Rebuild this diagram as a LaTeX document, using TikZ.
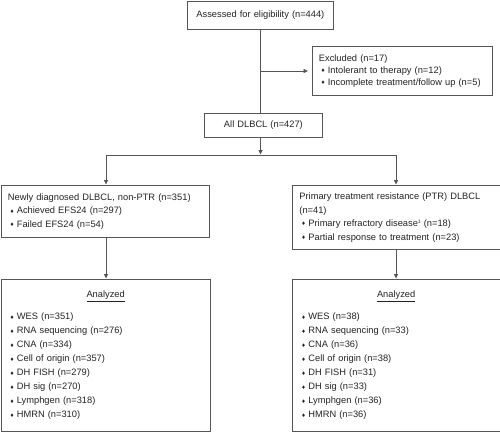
\documentclass[tikz,border=0pt]{standalone}
\usepackage{fontspec}
\setmainfont{Liberation Sans}
\newfontfamily\symfont{DejaVu Sans}
\usetikzlibrary{arrows.meta}
\definecolor{linegray}{HTML}{555555}
\definecolor{txtgray}{HTML}{222222}
\newcommand\dia{\raisebox{0.7pt}{\symfont\fontsize{5pt}{5pt}\selectfont ♦}}
\newcommand\itm{\hspace*{2pt}\dia\hspace{2.5pt}}
\begin{document}
\begin{tikzpicture}[x=1pt,y=-1pt,
  box/.style={draw=linegray, line width=0.8pt, anchor=north west, inner xsep=7pt, inner ysep=0pt,
    text=txtgray, font=\fontsize{9.3pt}{13.5pt}\selectfont},
  conn/.style={draw=linegray, line width=0.8pt},
  arr/.style={conn, -{Triangle[length=4.5pt,width=4pt]}, shorten >=0.5pt}]
\useasboundingbox (0,0) rectangle (500,432);
% boxes
\node[box, minimum width=146pt, minimum height=28.5pt, text width=132pt, align=center] (top) at (187,0.5) {Assessed for eligibility (n=444)};
\node[box, minimum width=180.5pt, minimum height=49pt, text width=166.5pt, align=left, font=\fontsize{9.3pt}{12.3pt}\selectfont] (excl) at (311.5,46) {Excluded (n=17)\\\itm Intolerant to therapy (n=12)\\\itm Incomplete treatment/follow up (n=5)};
\node[box, minimum width=118pt, minimum height=24pt, text width=104pt, align=center] (all) at (204,113) {All DLBCL (n=427)};
\node[box, minimum width=208.5pt, minimum height=52pt, text width=194.5pt, align=left] (newd) at (0.5,185) {Newly diagnosed DLBCL, non-PTR (n=351)\\\itm Achieved EFS24 (n=297)\\\itm Failed EFS24 (n=54)};
\node[box, minimum width=207.5pt, minimum height=64pt, text width=193.5pt, align=left] (ptr) at (292,185) {Primary treatment resistance (PTR) DLBCL\\(n=41)\\\itm Primary refractory disease{\fontsize{5pt}{5pt}\selectfont\raisebox{3.5pt}{1}} (n=18)\\\itm Partial response to treatment (n=23)};
\node[box, minimum width=209.5pt, minimum height=152pt, text width=195.5pt, align=left, font=\fontsize{9.3pt}{14pt}\selectfont] (anl) at (0.5,279) {\makebox[195.5pt][c]{\underline{Analyzed}}\\[8pt]
\itm WES (n=351)\\\itm RNA sequencing (n=276)\\\itm CNA (n=334)\\\itm Cell of origin (n=357)\\\itm DH FISH (n=279)\\\itm DH sig (n=270)\\\itm Lymphgen (n=318)\\\itm HMRN (n=310)\\[3pt]};
\node[box, minimum width=207.5pt, minimum height=152pt, text width=193.5pt, align=left, font=\fontsize{9.3pt}{14pt}\selectfont] (anr) at (292,279) {\makebox[193.5pt][c]{\underline{Analyzed}}\\[8pt]
\itm WES (n=38)\\\itm RNA sequencing (n=33)\\\itm CNA (n=36)\\\itm Cell of origin (n=38)\\\itm DH FISH (n=31)\\\itm DH sig (n=33)\\\itm Lymphgen (n=36)\\\itm HMRN (n=36)\\[3pt]};
% connectors
\coordinate (tb) at (260.5,29);
\coordinate (br) at (260.5,71);
\coordinate (ab) at (260.5,113);
\coordinate (ex) at (308.5,71);
\coordinate (allb) at (260.5,137);
\coordinate (split) at (260.5,155);
\coordinate (sl) at (106,155);
\coordinate (sr) at (396,155);
\coordinate (nl) at (106,185);
\coordinate (nr) at (396,185);
\coordinate (nlb) at (106,237);
\coordinate (anlt) at (106,279);
\coordinate (nrb) at (396,249);
\coordinate (anrt) at (396,279);
\draw[conn] (tb) -- (ab);
\draw[arr] (br) -- (ex);
\draw[arr] (allb) -- (split);
\draw[conn] (sl) -- (sr);
\draw[arr] (sl) -- (nl);
\draw[arr] (sr) -- (nr);
\draw[arr] (nlb) -- (anlt);
\draw[arr] (nrb) -- (anrt);
\end{tikzpicture}
\end{document}
